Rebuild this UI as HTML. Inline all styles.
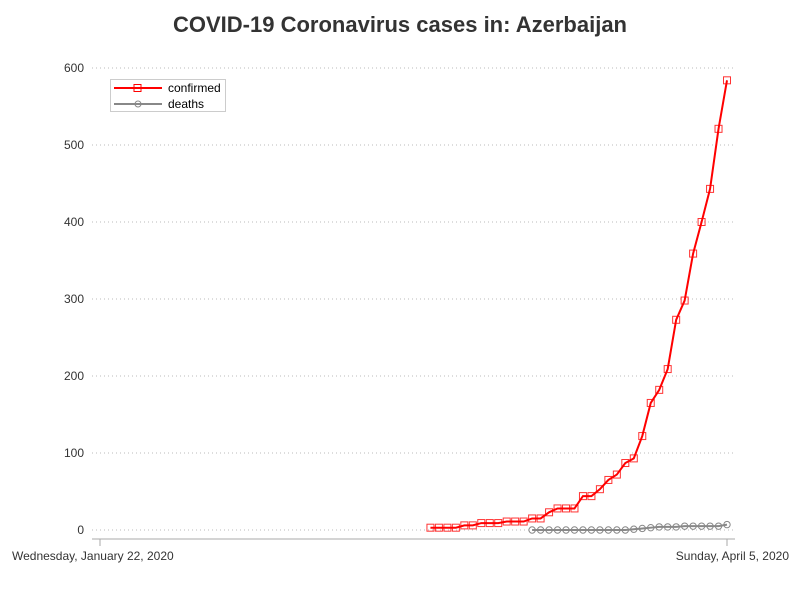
<!DOCTYPE html>
<html><head><meta charset="utf-8"><style>
body{margin:0;background:#fff;}
svg{display:block;font-family:"Liberation Sans",sans-serif;}
</style></head><body>
<svg id="chart" width="800" height="600">
<text x="400" y="32" text-anchor="middle" font-size="22" font-weight="bold" fill="#333">COVID-19 Coronavirus cases in: Azerbaijan</text>
<g id="grid"></g><g id="series"></g>
<line x1="92" y1="539" x2="735" y2="539" stroke="#aaa"/>
<line x1="100" y1="539" x2="100" y2="546" stroke="#aaa"/>
<line x1="727" y1="539" x2="727" y2="546" stroke="#aaa"/>
<text x="12" y="560" font-size="12" fill="#333">Wednesday, January 22, 2020</text>
<text x="789" y="560" font-size="12" fill="#333" text-anchor="end">Sunday, April 5, 2020</text>
<g>
<rect x="110.5" y="79.5" width="115" height="32" fill="#fff" stroke="#ccc"/>
<line x1="114" y1="88" x2="162" y2="88" stroke="red" stroke-width="2"/>
<rect x="134" y="84.5" width="7" height="7" fill="none" stroke="red"/>
<text x="168" y="92" font-size="12" fill="#000">confirmed</text>
<line x1="114" y1="104" x2="162" y2="104" stroke="#888" stroke-width="2"/>
<circle cx="138" cy="104" r="3" fill="none" stroke="#888"/>
<text x="168" y="108" font-size="12" fill="#000">deaths</text>
</g>
</svg>
<script>
const yTicks=[0,100,200,300,400,500,600];
const confirmedStart=39; // Mar 1 (days since Jan 22)
const confirmed=[3,3,3,3,6,6,9,9,9,11,11,11,15,15,23,28,28,28,44,44,53,65,72,87,93,122,165,182,209,273,298,359,400,443,521,584];
const deathsStart=51; // Mar 13
const deaths=[0,0,0,0,0,0,0,0,0,0,0,0,1,2,3,4,4,4,5,5,5,5,5,7];
const totalDays=74;
const NS="http://www.w3.org/2000/svg";
const xs=d=>100+d*(627/totalDays);
const ys=v=>530-v*(462/600);
const grid=document.getElementById('grid'),ser=document.getElementById('series');
function mk(tag,attrs,parent){const e=document.createElementNS(NS,tag);for(const k in attrs)e.setAttribute(k,attrs[k]);parent.appendChild(e);return e;}
yTicks.forEach(t=>{
 const l=mk('line',{x1:92,x2:735,y1:ys(t),y2:ys(t),stroke:'#bbb','stroke-dasharray':'1,3'},grid);
 
 
 const tx=mk('text',{x:84,y:ys(t)+4,'text-anchor':'end','font-size':12,fill:'#333'},grid);
 tx.textContent=t;
 
 
});
function draw(arr,start,color,shape,name){
 const pts=arr.map((v,i)=>[xs(start+i),ys(v)]);
 const p=mk('polyline',{points:pts.map(p=>p.join(',')).join(' '),fill:'none',stroke:color,'stroke-width':2},ser);
 
 
 pts.forEach(([x,y])=>{
  let m;
  if(shape==='sq')m=mk('rect',{x:x-3.5,y:y-3.5,width:7,height:7,fill:'none',stroke:color,'stroke-opacity':0.8},ser);
  else m=mk('circle',{cx:x,cy:y,r:3.2,fill:'none',stroke:color},ser);
  
  
 });
}
draw(deaths,deathsStart,'#888','c','deaths');
draw(confirmed,confirmedStart,'red','sq','confirmed');
</script>
</body></html>
